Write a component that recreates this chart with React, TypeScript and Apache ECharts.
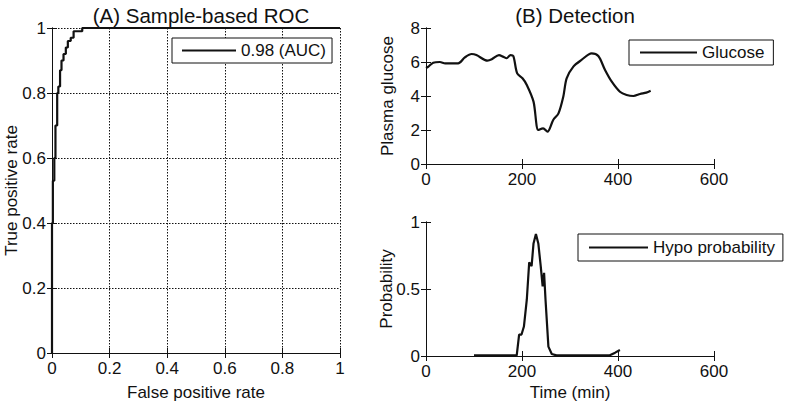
import React, { useEffect, useRef } from "react";
import * as echarts from "echarts";

// ROC curve (staircase points)
const rocFpr = [0, 0, 0.003, 0.003, 0.008, 0.008, 0.012, 0.012, 0.018, 0.018, 0.022, 0.022, 0.028, 0.028, 0.033, 0.033, 0.04, 0.04, 0.048, 0.048, 0.055, 0.055, 0.065, 0.065, 0.075, 0.075, 0.105, 0.105, 1];
const rocTpr = [0, 0.4, 0.4, 0.53, 0.53, 0.6, 0.6, 0.7, 0.7, 0.8, 0.8, 0.82, 0.82, 0.87, 0.87, 0.9, 0.9, 0.92, 0.92, 0.94, 0.94, 0.96, 0.96, 0.97, 0.97, 0.99, 0.99, 1, 1];

// Glucose trace
const glucoseTime = [0, 5, 15, 29, 40, 67, 81, 95, 105, 128, 137, 152, 161, 168, 176, 182, 190, 201, 210, 224, 234, 244, 253, 265, 276, 286, 293, 307, 324, 345, 359, 373, 387, 404, 418, 432, 446, 459, 468];
const glucoseValue = [5.65, 5.73, 5.96, 6.0, 5.92, 5.92, 6.27, 6.47, 6.41, 6.08, 6.16, 6.41, 6.31, 6.22, 6.41, 6.35, 5.33, 5.04, 4.65, 3.67, 2.0, 2.1, 1.9, 2.59, 2.98, 3.96, 5.04, 5.73, 6.12, 6.51, 6.35, 5.53, 4.84, 4.25, 4.06, 4.0, 4.12, 4.2, 4.31];

// Hypo probability trace
const probTime = [100, 189, 194, 199, 204, 210, 215, 220, 224, 229, 234, 239, 243, 246, 249, 255, 262, 272, 383, 394, 404];
const probValue = [0.005, 0.005, 0.16, 0.16, 0.22, 0.42, 0.7, 0.67, 0.84, 0.91, 0.84, 0.67, 0.52, 0.62, 0.42, 0.07, 0.015, 0.005, 0.005, 0.025, 0.045];

const rocTicks = [0, 0.2, 0.4, 0.6, 0.8, 1];
const timeTicks = [0, 200, 400, 600];
const glucoseTicks = [0, 2, 4, 6, 8];
const probTicks = [0, 0.5, 1];

const FONT = "'Liberation Sans', Arial, Helvetica, sans-serif";
const BLACK = "#111";

function zip(a: number[], b: number[]) {
  return a.map((v, i) => [v, b[i]]);
}

export default function App() {
  const ref = useRef<HTMLDivElement>(null);
  useEffect(() => {
    if (!ref.current) return;
    const chart = echarts.init(ref.current, undefined, { renderer: "svg" });

    const label = { color: BLACK, fontSize: 17, fontFamily: FONT };
    const axisLine = { show: true, lineStyle: { color: BLACK, width: 1 } };
    const tickIn = { show: true, inside: true, length: 5, lineStyle: { color: BLACK } };
    const dotted = { show: true, lineStyle: { color: BLACK, type: [1.5, 1.5] as any, width: 1 } };
    const nameStyle = { color: BLACK, fontSize: 17, fontFamily: FONT };

    const mkX = (grid: number, min: number, max: number, interval: number, opts: any = {}) => ({
      type: "value", gridIndex: grid, min, max, interval, position: "bottom",
      axisLine, axisTick: tickIn,
      axisLabel: { ...label, margin: 7 },
      splitLine: { show: false },
      nameMoveOverlap: false,
      ...opts,
    });
    const mkXTop = (grid: number, min: number, max: number, interval: number) => ({
      type: "value", gridIndex: grid, min, max, interval, position: "top",
      axisLine, axisTick: tickIn, axisLabel: { show: false }, splitLine: { show: false },
    });
    const mkY = (grid: number, min: number, max: number, interval: number, opts: any = {}) => ({
      type: "value", gridIndex: grid, min, max, interval, position: "left",
      axisLine, axisTick: tickIn,
      axisLabel: { ...label, margin: 6 },
      splitLine: { show: false },
      nameMoveOverlap: false,
      ...opts,
    });
    const mkYRight = (grid: number, min: number, max: number, interval: number) => ({
      type: "value", gridIndex: grid, min, max, interval, position: "right",
      axisLine, axisTick: tickIn, axisLabel: { show: false }, splitLine: { show: false },
    });

    const rocInt = rocTicks[1] - rocTicks[0];
    const timeInt = timeTicks[1] - timeTicks[0];
    const gluInt = glucoseTicks[1] - glucoseTicks[0];
    const probInt = probTicks[1] - probTicks[0];

    const legendBase = {
      orient: "horizontal",
      icon: "rect",
      itemHeight: 2,
      borderColor: BLACK,
      borderWidth: 1,
      borderRadius: 0,
      backgroundColor: "#fff",
      textStyle: { color: BLACK, fontSize: 17, fontFamily: FONT },
      selectedMode: false,
    };

    chart.setOption({
      animation: false,
      backgroundColor: "#fff",
      title: [
        { text: "(A) Sample-based ROC", left: 196, top: 0, textAlign: "center",
          textStyle: { color: BLACK, fontSize: 20.5, fontWeight: "normal", fontFamily: FONT } },
        { text: "(B) Detection", left: 570, top: 0, textAlign: "center",
          textStyle: { color: BLACK, fontSize: 20.5, fontWeight: "normal", fontFamily: FONT } },
      ],
      grid: [
        { left: 52, top: 28, width: 288, height: 331 },
        { left: 426, top: 28, width: 288, height: 136 },
        { left: 426, top: 222, width: 288, height: 134 },
      ],
      legend: [
        { ...legendBase, data: ["0.98 (AUC)"], left: 172, top: 38, itemWidth: 54, padding: [4, 6, 4, 10] },
        { ...legendBase, data: ["Glucose"], left: 629, top: 40, itemWidth: 57, padding: [4, 9, 4, 11] },
        { ...legendBase, data: ["Hypo probability"], left: 578, top: 234, itemWidth: 59, padding: [5, 8, 5, 11] },
      ],
      xAxis: [
        mkX(0, rocTicks[0], rocTicks[rocTicks.length - 1], rocInt, {
          splitLine: dotted,
          name: "False positive rate", nameLocation: "middle", nameGap: 31, nameTextStyle: nameStyle,
        }),
        mkXTop(0, rocTicks[0], rocTicks[rocTicks.length - 1], rocInt),
        mkX(1, timeTicks[0], timeTicks[timeTicks.length - 1], timeInt),
        mkXTop(1, timeTicks[0], timeTicks[timeTicks.length - 1], timeInt),
        mkX(2, timeTicks[0], timeTicks[timeTicks.length - 1], timeInt, {
          name: "Time (min)", nameLocation: "middle", nameGap: 28, nameTextStyle: nameStyle,
        }),
        mkXTop(2, timeTicks[0], timeTicks[timeTicks.length - 1], timeInt),
      ],
      yAxis: [
        mkY(0, rocTicks[0], rocTicks[rocTicks.length - 1], rocInt, {
          splitLine: dotted,
          name: "True positive rate", nameLocation: "middle", nameGap: 32, nameTextStyle: nameStyle,
        }),
        mkYRight(0, rocTicks[0], rocTicks[rocTicks.length - 1], rocInt),
        mkY(1, glucoseTicks[0], glucoseTicks[glucoseTicks.length - 1], gluInt, {
          name: "Plasma glucose", nameLocation: "middle", nameGap: 30, nameTextStyle: nameStyle,
        }),
        mkYRight(1, glucoseTicks[0], glucoseTicks[glucoseTicks.length - 1], gluInt),
        mkY(2, probTicks[0], probTicks[probTicks.length - 1], probInt, {
          name: "Probability", nameLocation: "middle", nameGap: 31, nameTextStyle: nameStyle,
        }),
        mkYRight(2, probTicks[0], probTicks[probTicks.length - 1], probInt),
      ],
      series: [
        { name: "0.98 (AUC)", type: "line", xAxisIndex: 0, yAxisIndex: 0, data: zip(rocFpr, rocTpr),
          symbol: "none", color: BLACK, lineStyle: { color: BLACK, width: 2.2 }, z: 5 },
        { name: "Glucose", type: "line", xAxisIndex: 2, yAxisIndex: 2, data: zip(glucoseTime, glucoseValue),
          symbol: "none", smooth: 0.3, color: BLACK, lineStyle: { color: BLACK, width: 2.2 } },
        { name: "Hypo probability", type: "line", xAxisIndex: 4, yAxisIndex: 4, data: zip(probTime, probValue),
          symbol: "none", color: BLACK, lineStyle: { color: BLACK, width: 2.2 } },
      ],
    });
    return () => chart.dispose();
  }, []);

  return (
    <div style={{ position: "fixed", left: 0, top: 0, width: 788, height: 406, background: "#fff" }}>
      <div ref={ref} style={{ width: 788, height: 406 }} />
    </div>
  );
}
